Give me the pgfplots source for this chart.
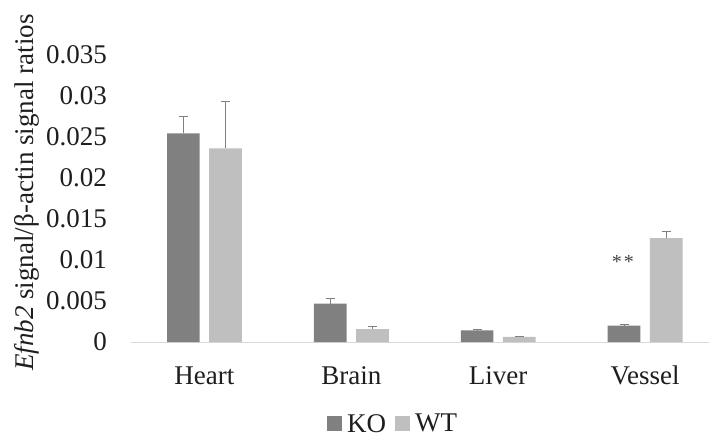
\documentclass[border=0pt]{standalone}
\usepackage{pgfplots}
\pgfplotsset{compat=1.18}
\usepackage{fontspec}
\setmainfont{Liberation Serif}
\definecolor{kocol}{RGB}{128,128,128}
\definecolor{wtcol}{RGB}{191,191,191}
\definecolor{axcol}{RGB}{217,217,217}
\definecolor{errcol}{RGB}{128,128,128}
\definecolor{txtcol}{RGB}{30,30,30}
\begin{document}
\begin{tikzpicture}
\path[use as bounding box] (-131bp,-99bp) rectangle (578bp,342bp);
\begin{axis}[
  at={(0,0)}, anchor=south west,
  scale only axis,
  width=578bp, height=287.3bp,
  xmin=-0.5, xmax=3.435,
  ymin=0, ymax=0.035,
  axis x line=bottom, axis y line=left,
  x axis line style={-, draw=axcol, line width=1bp},
  y axis line style={draw=none},
  major tick length=0pt,
  xtick={0,1,2,3},
  xticklabels={Heart,Brain,Liver,Vessel},
  ytick={0,0.005,0.01,0.015,0.02,0.025,0.03,0.035},
  yticklabels={0,0.005,0.01,0.015,0.02,0.025,0.03,0.035},
  scaled y ticks=false,
  tick label style={font=\fontsize{27bp}{32bp}\selectfont, text=txtcol},
  xticklabel style={anchor=base, inner sep=0pt, yshift=-42bp},
  yticklabel style={anchor=east, inner sep=0pt, xshift=-24bp},
  ylabel={\textit{Efnb2} signal/β-actin signal ratios},
  ylabel style={at={(axis description cs:-0.18,0.52)}, anchor=center, font=\fontsize{27bp}{32bp}\selectfont, text=txtcol},
  ybar, bar width=0.2226,
  legend columns=2,
  legend style={draw=none, fill=none, at={(axis description cs:0.456,-0.285)}, anchor=center,
    font=\fontsize{27bp}{32bp}\selectfont, text=txtcol,
    nodes={inner sep=5bp},
    /tikz/every even column/.append style={column sep=4bp}},
  legend image code/.code={\fill[#1] (0bp,-7.5bp) rectangle (15bp,7.5bp);},
  error bars/y dir=plus, error bars/y explicit,
  error bars/error bar style={draw=errcol, line width=1bp},
  error bars/error mark options={rotate=90, mark size=4.5bp, draw=errcol, line width=1bp},
]
\addplot[fill=kocol, draw=none, bar shift=-0.1436] coordinates {
  (0,0.02542) +- (0,0.0020)
  (1,0.00466) +- (0,0.0007)
  (2,0.00141) +- (0,0.0001)
  (3,0.00198) +- (0,0.00012)
};
\addplot[fill=wtcol, draw=none, bar shift=0.1436] coordinates {
  (0,0.0236) +- (0,0.00575)
  (1,0.00158) +- (0,0.0003)
  (2,0.00061) +- (0,0.0001)
  (3,0.01265) +- (0,0.0008)
};
\legend{KO,WT}
\node[font=\fontsize{20bp}{24bp}\selectfont, text=txtcol!85] at (axis cs:2.848,0.0098) {*\kern2bp*};
\end{axis}
\end{tikzpicture}
\end{document}
